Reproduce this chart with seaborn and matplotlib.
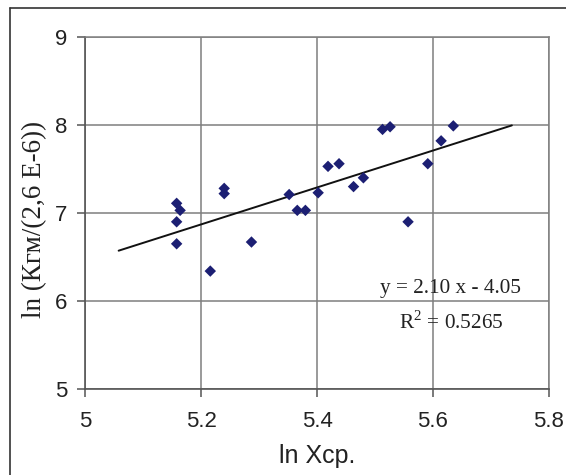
import numpy as np
import pandas as pd
import matplotlib
matplotlib.use("Agg")
import matplotlib.pyplot as plt
from matplotlib.lines import Line2D
import seaborn as sns

# Data
ln_x = [5.158, 5.164, 5.158, 5.158, 5.216, 5.240, 5.240, 5.287, 5.352, 5.366, 5.380,
        5.402, 5.419, 5.438, 5.463, 5.480, 5.513, 5.526, 5.557, 5.591, 5.614, 5.635]
ln_k = [7.11, 7.03, 6.90, 6.65, 6.34, 7.28, 7.22, 6.67, 7.21, 7.03, 7.03,
        7.23, 7.53, 7.56, 7.30, 7.40, 7.95, 7.98, 6.90, 7.56, 7.82, 7.99]
slope = 2.10
intercept = -4.05
trend_x = [5.058, 5.736]
x_ticks = [5.0, 5.2, 5.4, 5.6, 5.8]
x_tick_labels = ["5", "5.2", "5.4", "5.6", "5.8"]
y_ticks = [5, 6, 7, 8, 9]
eq_text = "y = 2.10 x - 4.05"
r2_text = "R$^2$ = 0.5265"

sns.set_style("white")
plt.rcParams['font.family'] = ['Liberation Sans', 'DejaVu Sans']
plt.rcParams['mathtext.fontset'] = 'custom'
plt.rcParams['mathtext.rm'] = 'Liberation Serif'

serif = ["Liberation Serif", "DejaVu Serif"]

df = pd.DataFrame({"x": ln_x, "y": ln_k})
tx = np.array(trend_x)
trend = pd.DataFrame({"x": tx, "y": slope * tx + intercept})

fig = plt.figure(figsize=(5.66, 4.75), dpi=100)
ax = fig.add_axes([85/566, 1 - 389/475, (549-85)/566, (389-37)/475])

sns.lineplot(data=trend, x="x", y="y", ax=ax, color="#111111", lw=1.4, zorder=3)
sns.scatterplot(data=df, x="x", y="y", ax=ax, marker="D", s=34, color="#1c1f73",
                edgecolor="none", zorder=4)

ax.set_xlim(5.0, 5.8)
ax.set_ylim(5, 9)
ax.set_xticks(x_ticks)
ax.set_xticklabels(x_tick_labels)
ax.set_yticks(y_ticks)
ax.grid(True, color="#7f7f7f", lw=1.1)
ax.set_axisbelow(True)
for s in ["top", "right"]:
    ax.spines[s].set_color("#7f7f7f")
    ax.spines[s].set_linewidth(1.1)
for s in ["left", "bottom"]:
    ax.spines[s].set_color("#555555")
    ax.spines[s].set_linewidth(1.2)
ax.tick_params(axis="both", direction="out", length=5.5, width=1.1, color="#555555",
               labelsize=16, labelcolor="#222222", left=True, bottom=True)
ax.tick_params(axis="x", pad=10)
ax.tick_params(axis="y", pad=7)

ax.set_xlabel("ln Xcp.", fontsize=18, color="#222222", labelpad=9)
ax.set_ylabel("ln (Кгм/(2,6 E-6))", fontsize=19.5, color="#222222",
              family=serif, labelpad=6)
ax.yaxis.set_label_coords(-0.082, 0.483)
ax.yaxis.label.set_va("bottom")

ax.text(5.631, 6.14, eq_text, ha="center", va="center", fontsize=15.3,
        family=serif, color="#222222")
ax.text(5.631, 5.76, r2_text, ha="center", va="center", fontsize=15.3,
        family=serif, color="#222222")

# Figure border (only left and top visible in the cropped picture)
fig.lines.append(Line2D([9.5/566, 9.5/566], [0, 1 - 7.5/475], transform=fig.transFigure,
                        color="#333333", lw=1.2))
fig.lines.append(Line2D([9.5/566, 1], [1 - 7.5/475, 1 - 7.5/475], transform=fig.transFigure,
                        color="#333333", lw=1.2))

fig.savefig("out.png", dpi=100)
